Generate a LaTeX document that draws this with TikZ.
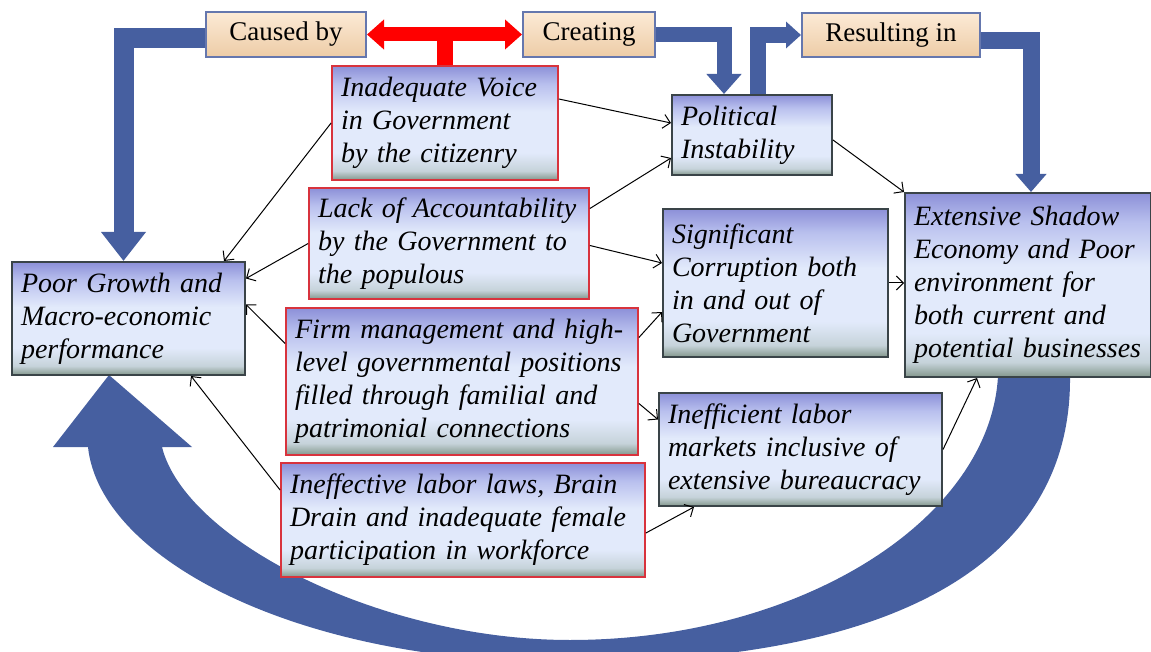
\documentclass[tikz,border=0pt]{standalone}
\usepackage{fontspec}
\setmainfont{Liberation Serif}
\usetikzlibrary{arrows.meta}

% colours
\definecolor{btop}{HTML}{8C90D8}
\definecolor{bupper}{HTML}{B9C0EE}
\definecolor{bmid}{HTML}{E2EAFB}
\definecolor{blow}{HTML}{C6D3DA}
\definecolor{bbot}{HTML}{83978C}
\definecolor{boxline}{HTML}{3A4448}
\definecolor{causeline}{HTML}{D8333D}
\definecolor{tagtop}{HTML}{FCEAD6}
\definecolor{tagbot}{HTML}{EDCCA6}
\definecolor{tagline}{HTML}{6577AE}
\definecolor{flowblue}{HTML}{465FA0}

\pgfdeclareverticalshading{boxfill}{100bp}{color(0bp)=(bbot); color(25bp)=(bbot); color(29bp)=(blow); color(37bp)=(bmid); color(55bp)=(bmid); color(67bp)=(bupper); color(75bp)=(btop); color(100bp)=(btop)}

\tikzset{
  effect/.style={shade, shading=boxfill, draw=boxline, line width=1pt, inner xsep=4.5pt, inner ysep=2pt, align=left, font=\fontsize{14}{16.5}\selectfont\itshape},
  cause/.style={effect, draw=causeline, line width=0.9pt},
  tag/.style={top color=tagtop, bottom color=tagbot, draw=tagline, line width=1pt, font=\fontsize{13.5}{16}\selectfont},
  link/.style={-{Straight Barb[length=3.5pt,width=7pt]}, line width=0.5pt},
  flow/.style={draw=flowblue, line join=miter},
}

\begin{document}
\begin{tikzpicture}[x=0.5pt,y=-0.5pt]
    \useasboundingbox (0,0) rectangle (1151,652);

    % Big return arrow
    \fill[flowblue] (1070,376) .. controls (1072,560) and (900,665) .. (560,662)
        .. controls (300,662) and (100,560) .. (88,447)
        -- (53,447) -- (109,375) -- (192,447) -- (162,447)
        .. controls (185,540) and (380,640) .. (570,640)
        .. controls (800,640) and (990,520) .. (998,376) -- cycle;

    % Causes
    \node[cause, text width=104pt, minimum height=57pt] (voice) at (445,123) {Inadequate Voice\\in Government\\by the citizenry};
    \node[cause, text width=131pt, minimum height=55.5pt] (account) at (449,243.5) {Lack of Accountability\\by the Government to\\the populous};
    \node[cause, text width=167pt, minimum height=73.5pt] (firm) at (462,381.5) {Firm management and high-\\level governmental positions\\filled through familial and\\patrimonial connections};
    \node[cause, text width=173pt, minimum height=57pt] (laws) at (463,520) {Ineffective labor laws, Brain\\Drain and inadequate female\\participation in workforce};

    % Effects
    \node[effect, text width=107.5pt, minimum height=56.5pt] (poor) at (128.5,318.5) {Poor Growth and\\Macro-economic\\performance};
    \node[effect, text width=71pt, minimum height=40pt] (political) at (752,135) {Political\\Instability};
    \node[effect, text width=103.5pt, minimum height=74pt] (corrupt) at (775.5,283) {Significant\\Corruption both\\in and out of\\Government};
    \node[effect, text width=132.5pt, minimum height=56.5pt] (labor) at (800.5,449.5) {Inefficient labor\\markets inclusive of\\extensive bureaucracy};
    \node[effect, text width=114pt, minimum height=92pt] (shadow) at (1028,285) {Extensive Shadow\\Economy and Poor\\environment for\\both current and\\potential businesses};

    % Tags
    \node[tag, minimum width=80pt, minimum height=22.5pt] (caused) at (286,34.5) {Caused by};
    \node[tag, minimum width=66pt, minimum height=22.5pt] (creating) at (589,34.5) {Creating};
    \node[tag, minimum width=89pt, minimum height=22pt] (resulting) at (891,35) {Resulting in};

    % Red split arrow
    \draw[red, line width=8pt] (voice.north) -- (voice.north |- caused.east);
    \draw[red, line width=7pt, {Triangle[width=14.5pt,length=8.5pt]}-{Triangle[width=14.5pt,length=8.5pt]}] (caused.east) -- (creating.west);

    % Blue flows
    \draw[flow, line width=10pt, -{Triangle[width=21.5pt,length=14.5pt]}] ([yshift=-2pt]caused.west) -| ([xshift=-2.5pt]poor.north);
    \draw[flow, line width=7.5pt, -{Triangle[width=17pt,length=10pt]}] (creating.east) -| ([xshift=-14pt]political.north);
    \draw[flow, line width=8pt, -{Triangle[width=13pt,length=7.5pt]}] ([xshift=3pt]political.north) |- (resulting.west);
    \draw[flow, line width=8.5pt, -{Triangle[width=15pt,length=9pt]}] ([yshift=-3pt]resulting.east) -| ([xshift=1.5pt]shadow.north);

    % Thin links
    \draw[link] (voice.west) -- ([xshift=-11pt]poor.north east);
    \draw[link] (account.west) -- ([yshift=20pt]poor.east);
    \draw[link] ([yshift=19pt]firm.west) -- ([yshift=7pt]poor.east);
    \draw[link] ([yshift=15pt]laws.west) -- ([xshift=-27.5pt]poor.south east);
    \draw[link] ([yshift=12pt]voice.east) -- ([yshift=6pt]political.west);
    \draw[link] ([yshift=17.5pt]account.east) -- ([yshift=-11.5pt]political.west);
    \draw[link] ([yshift=-1pt]account.east) -- ([yshift=10pt]corrupt.west);
    \draw[link] ([yshift=22pt]firm.east) -- ([yshift=-14.5pt]corrupt.west);
    \draw[link] ([yshift=-11pt]firm.east) -- ([yshift=15pt]labor.west);
    \draw[link] ([yshift=-6.5pt]laws.east) -- ([xshift=18pt]labor.south west);
    \draw[link] ([yshift=-2.5pt]political.east) -- (shadow.north west);
    \draw[link] (corrupt.east) -- (corrupt.east -| shadow.west);
    \draw[link] (labor.east) -- ([xshift=36.5pt]shadow.south west);
\end{tikzpicture}
\end{document}
